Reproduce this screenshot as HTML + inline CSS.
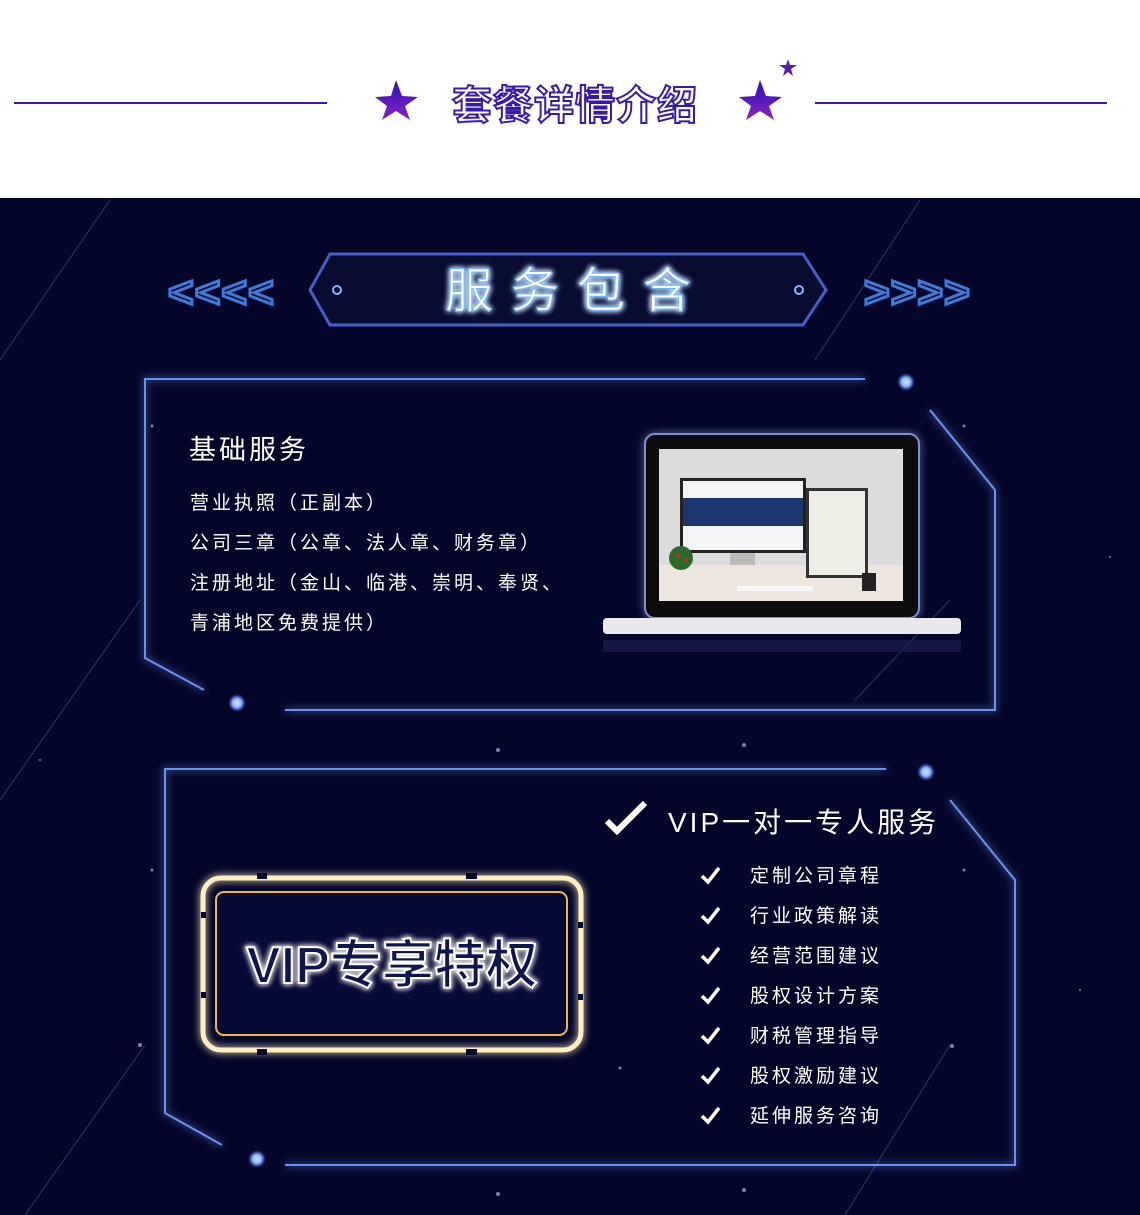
<!DOCTYPE html>
<html><head><meta charset="utf-8"><style>
html,body{margin:0;padding:0;background:#fff}
svg{display:block}
text{font-family:"Liberation Sans","Noto Sans CJK SC",sans-serif}
</style></head><body>
<svg width="1140" height="1215" viewBox="0 0 1140 1215" xmlns="http://www.w3.org/2000/svg">
<defs>
<linearGradient id="st" x1="0" y1="0" x2="0" y2="1"><stop offset="0" stop-color="#2a10b8"/><stop offset="1" stop-color="#8a22c0"/></linearGradient>
<filter id="glow" x="-20%" y="-50%" width="140%" height="200%"><feGaussianBlur stdDeviation="3" result="b"/><feMerge><feMergeNode in="b"/><feMergeNode in="b"/><feMergeNode in="SourceGraphic"/></feMerge></filter>
<filter id="glow2" x="-20%" y="-20%" width="140%" height="140%"><feGaussianBlur stdDeviation="4" result="b"/><feMerge><feMergeNode in="b"/><feMergeNode in="SourceGraphic"/></feMerge></filter>
<radialGradient id="dot"><stop offset="0" stop-color="#cfe4ff"/><stop offset="0.5" stop-color="#8fb6ff"/><stop offset="1" stop-color="#4060ff" stop-opacity="0"/></radialGradient>
</defs>
<rect width="1140" height="198" fill="#fff"/>
<line x1="14" y1="103" x2="327" y2="103" stroke="#3a18b0" stroke-width="2"/>
<line x1="815" y1="103" x2="1107" y2="103" stroke="#3a18b0" stroke-width="2"/>
<polygon points="396,80 402,96 418,97 405,106 410,120 396,111 382,120 387,106 375,97 391,96" fill="url(#st)"/>
<polygon points="760,80 766,96 782,97 769,106 774,120 760,111 746,120 751,106 739,97 755,96" fill="url(#st)"/>
<polygon points="788,59 790,65 797,65 791,69 793,76 788,72 783,76 785,69 779,65 786,65" fill="#5a1cb8"/>
<text x="575" y="119" text-anchor="middle" font-size="40" font-weight="bold" fill="#fff" stroke="#3a18b0" stroke-width="2" letter-spacing="1">套餐详情介绍</text>
<rect y="198" width="1140" height="1017" fill="#04062a"/>
<g stroke="#4a5a9a" stroke-width="1" opacity="0.6">
<line x1="110" y1="200" x2="0" y2="360"/><line x1="920" y1="200" x2="815" y2="360"/>
<line x1="140" y1="600" x2="0" y2="800"/><line x1="145" y1="1045" x2="25" y2="1215"/>
<line x1="950" y1="1045" x2="845" y2="1215"/><line x1="950" y1="600" x2="855" y2="700"/>
</g>
<g fill="#8fa5d8" opacity="0.8">
<circle cx="498" cy="750" r="2"/><circle cx="744" cy="745" r="2"/><circle cx="498" cy="1194" r="2"/><circle cx="744" cy="1190" r="2"/>
<circle cx="964" cy="426" r="1.5"/><circle cx="152" cy="426" r="1.5"/><circle cx="620" cy="1068" r="1.5"/><circle cx="140" cy="1045" r="2"/><circle cx="952" cy="1046" r="2"/><circle cx="964" cy="870" r="1.5"/><circle cx="152" cy="870" r="1.5"/><circle cx="1110" cy="557" r="1"/><circle cx="1080" cy="990" r="1"/><circle cx="40" cy="760" r="1"/>
</g>
<!-- banner -->
<g font-size="44" font-weight="bold" fill="none" stroke="#3d7bd8" stroke-width="3" font-family="Liberation Sans">
<text x="168" y="307" letter-spacing="1">&lt;&lt;&lt;&lt;</text><text x="864" y="307" letter-spacing="1">&gt;&gt;&gt;&gt;</text>
</g>
<polygon points="330,254 803,254 826,290 803,325 330,325 310,290" fill="#070c30" stroke="#4a5cc8" stroke-width="3"/>
<circle cx="337" cy="290" r="4" fill="none" stroke="#8fb0ff" stroke-width="2"/>
<circle cx="799" cy="290" r="4" fill="none" stroke="#8fb0ff" stroke-width="2"/>
<text x="577" y="307" text-anchor="middle" font-size="48" fill="#fff" stroke="#6ab4ff" stroke-width="1" letter-spacing="18" filter="url(#glow)">服务包含</text>
<!-- frames -->
<g stroke="#6a90f0" stroke-width="2" fill="none" filter="url(#glow2)">
<polyline points="865,379 145,379 145,658 204,690"/>
<polyline points="930,410 995,490 995,710 285,710"/>
<polyline points="886,769 165,769 165,1113 222,1145"/>
<polyline points="950,800 1015,880 1015,1165 285,1165"/>
</g>
<circle cx="906" cy="382" r="9" fill="url(#dot)"/><circle cx="237" cy="703" r="9" fill="url(#dot)"/>
<circle cx="926" cy="772" r="9" fill="url(#dot)"/><circle cx="257" cy="1159" r="9" fill="url(#dot)"/>
<text x="189" y="459" font-size="27" fill="#fff" letter-spacing="3">基础服务</text>
<g font-size="19" fill="#fff" letter-spacing="3">
<text x="190" y="509">营业执照（正副本）</text>
<text x="190" y="549">公司三章（公章、法人章、财务章）</text>
<text x="190" y="589">注册地址（金山、临港、崇明、奉贤、</text>
<text x="190" y="629">青浦地区免费提供）</text>
</g>
<!-- laptop -->
<rect x="645" y="434" width="274" height="184" rx="10" fill="#111" stroke="#7a90d0" stroke-width="2" filter="url(#glow2)"/>
<rect x="659" y="449" width="244" height="152" fill="#dcdcde"/>
<rect x="659" y="565" width="244" height="36" fill="#ece6df"/>
<rect x="680" y="478" width="126" height="75" fill="#222"/>
<rect x="683" y="481" width="120" height="18" fill="#f4f4f6"/>
<rect x="683" y="498" width="120" height="28" fill="#1e3670"/>
<rect x="683" y="526" width="120" height="24" fill="#f4f4f6"/>
<rect x="730" y="553" width="25" height="12" fill="#bbb"/>
<rect x="806" y="488" width="62" height="90" fill="#333"/><rect x="809" y="491" width="56" height="84" fill="#eeeee6"/>
<rect x="737" y="586" width="76" height="5" fill="#f8f8f8"/>
<circle cx="681" cy="558" r="12" fill="#2a6a2a"/><circle cx="678" cy="555" r="2" fill="#d22"/><circle cx="686" cy="560" r="2" fill="#d22"/>
<rect x="862" y="573" width="14" height="18" fill="#222"/>
<rect x="603" y="618" width="358" height="16" rx="4" fill="#e8e8ec"/>
<rect x="603" y="640" width="358" height="12" fill="#1a2050" opacity="0.7"/>
<!-- VIP neon -->
<rect x="203" y="878" width="378" height="172" rx="18" fill="none" stroke="#ffeec0" stroke-width="5" filter="url(#glow2)"/>
<g stroke="#04062a" stroke-width="6"><line x1="257" y1="876" x2="267" y2="876"/><line x1="257" y1="1052" x2="267" y2="1052"/><line x1="466" y1="876" x2="477" y2="876"/><line x1="466" y1="1052" x2="477" y2="1052"/>
<line x1="201" y1="915" x2="206" y2="915"/><line x1="201" y1="995" x2="206" y2="995"/><line x1="578" y1="925" x2="583" y2="925"/><line x1="578" y1="997" x2="583" y2="997"/></g>
<rect x="216" y="892" width="351" height="143" rx="8" fill="#050a36" stroke="#f2b83a" stroke-width="2"/>
<text x="392" y="983" text-anchor="middle" font-size="52" font-weight="bold" fill="#0a1250" stroke="#fff" stroke-width="2" filter="url(#glow)">VIP专享特权</text>
<!-- VIP list -->
<path d="M607,821 L617,831 L645,803" fill="none" stroke="#fff" stroke-width="6"/>
<text x="668" y="832" font-size="28" fill="#fff" letter-spacing="3">VIP一对一专人服务</text>
<g font-size="19" fill="#fff" letter-spacing="3">
<text x="750" y="882">定制公司章程</text><text x="750" y="922">行业政策解读</text><text x="750" y="962">经营范围建议</text><text x="750" y="1002">股权设计方案</text><text x="750" y="1042">财税管理指导</text><text x="750" y="1082">股权激励建议</text><text x="750" y="1122">延伸服务咨询</text>
</g>
<g fill="none" stroke="#fff" stroke-width="3.5">
<path d="M702,876 L708,882 L719,868"/><path d="M702,916 L708,922 L719,908"/><path d="M702,956 L708,962 L719,948"/><path d="M702,996 L708,1002 L719,988"/><path d="M702,1036 L708,1042 L719,1028"/><path d="M702,1076 L708,1082 L719,1068"/><path d="M702,1116 L708,1122 L719,1108"/>
</g>
</svg>
</body></html>
